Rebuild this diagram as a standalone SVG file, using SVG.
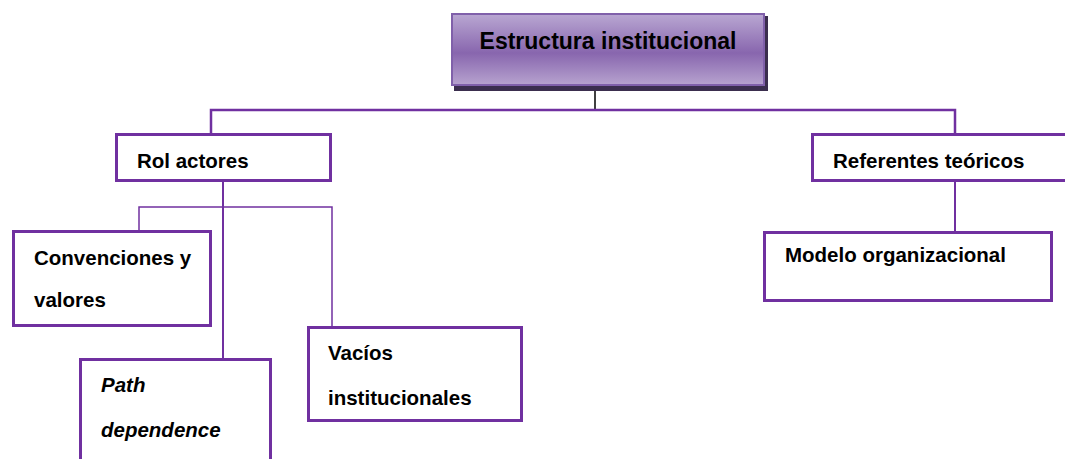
<svg xmlns="http://www.w3.org/2000/svg" width="1065" height="459" viewBox="0 0 1065 459">
<defs>
<linearGradient id="g" x1="0" y1="0" x2="0" y2="1">
<stop offset="0" stop-color="#b9a7d2"/>
<stop offset="0.55" stop-color="#8866ae"/>
<stop offset="1" stop-color="#b7a3cf"/>
</linearGradient>
<style>
.box{fill:#fff;stroke:#7030a0;stroke-width:3}
.t{font-family:"Liberation Sans",Arial,sans-serif;font-weight:bold;font-size:20.5px;fill:#000}
.big{font-size:23px}
.it{font-style:italic}
.c{fill:none;stroke:#7030a0}
</style>
</defs>
<rect width="1065" height="459" fill="#fff"/>
<g id="connectors">
<line x1="595" y1="86" x2="595" y2="110" stroke="#000" stroke-width="1.5"/>
<polyline class="c" stroke-width="2.5" points="211,133 211,110 955,110 955,133"/>
<line class="c" stroke-width="2" x1="223" y1="182" x2="223" y2="358"/>
<polyline class="c" stroke-width="1.5" points="139,230 139,207 332,207 332,326"/>
<line class="c" stroke-width="2" x1="955" y1="182" x2="955" y2="231"/>
</g>
<g id="estructura">
<rect x="454" y="16" width="314" height="75" fill="#3b2e4e"/>
<rect x="452" y="14" width="312" height="71" fill="url(#g)" stroke="#8060aa" stroke-width="2"/>
<text class="t big" x="608" y="49" text-anchor="middle">Estructura institucional</text>
</g>
<g id="rol">
<rect class="box" x="116.5" y="134.5" width="214" height="46"/>
<text class="t" x="137" y="168">Rol actores</text>
</g>
<g id="convenciones">
<rect class="box" x="13.5" y="231.5" width="197" height="94"/>
<text class="t" x="34" y="265">Convenciones y</text>
<text class="t" x="34" y="307">valores</text>
</g>
<g id="path">
<rect class="box" x="80.5" y="359.5" width="190" height="110"/>
<text class="t it" x="101" y="392">Path</text>
<text class="t it" x="101" y="437">dependence</text>
</g>
<g id="vacios">
<rect class="box" x="308.5" y="327.5" width="213" height="93"/>
<text class="t" x="328" y="360">Vacíos</text>
<text class="t" x="328" y="405">institucionales</text>
</g>
<g id="referentes">
<rect class="box" x="812.5" y="134.5" width="270" height="46"/>
<text class="t" x="833" y="168">Referentes teóricos</text>
</g>
<g id="modelo">
<rect class="box" x="764.5" y="232.5" width="287" height="68"/>
<text class="t" x="785" y="262">Modelo organizacional</text>
</g>
</svg>
